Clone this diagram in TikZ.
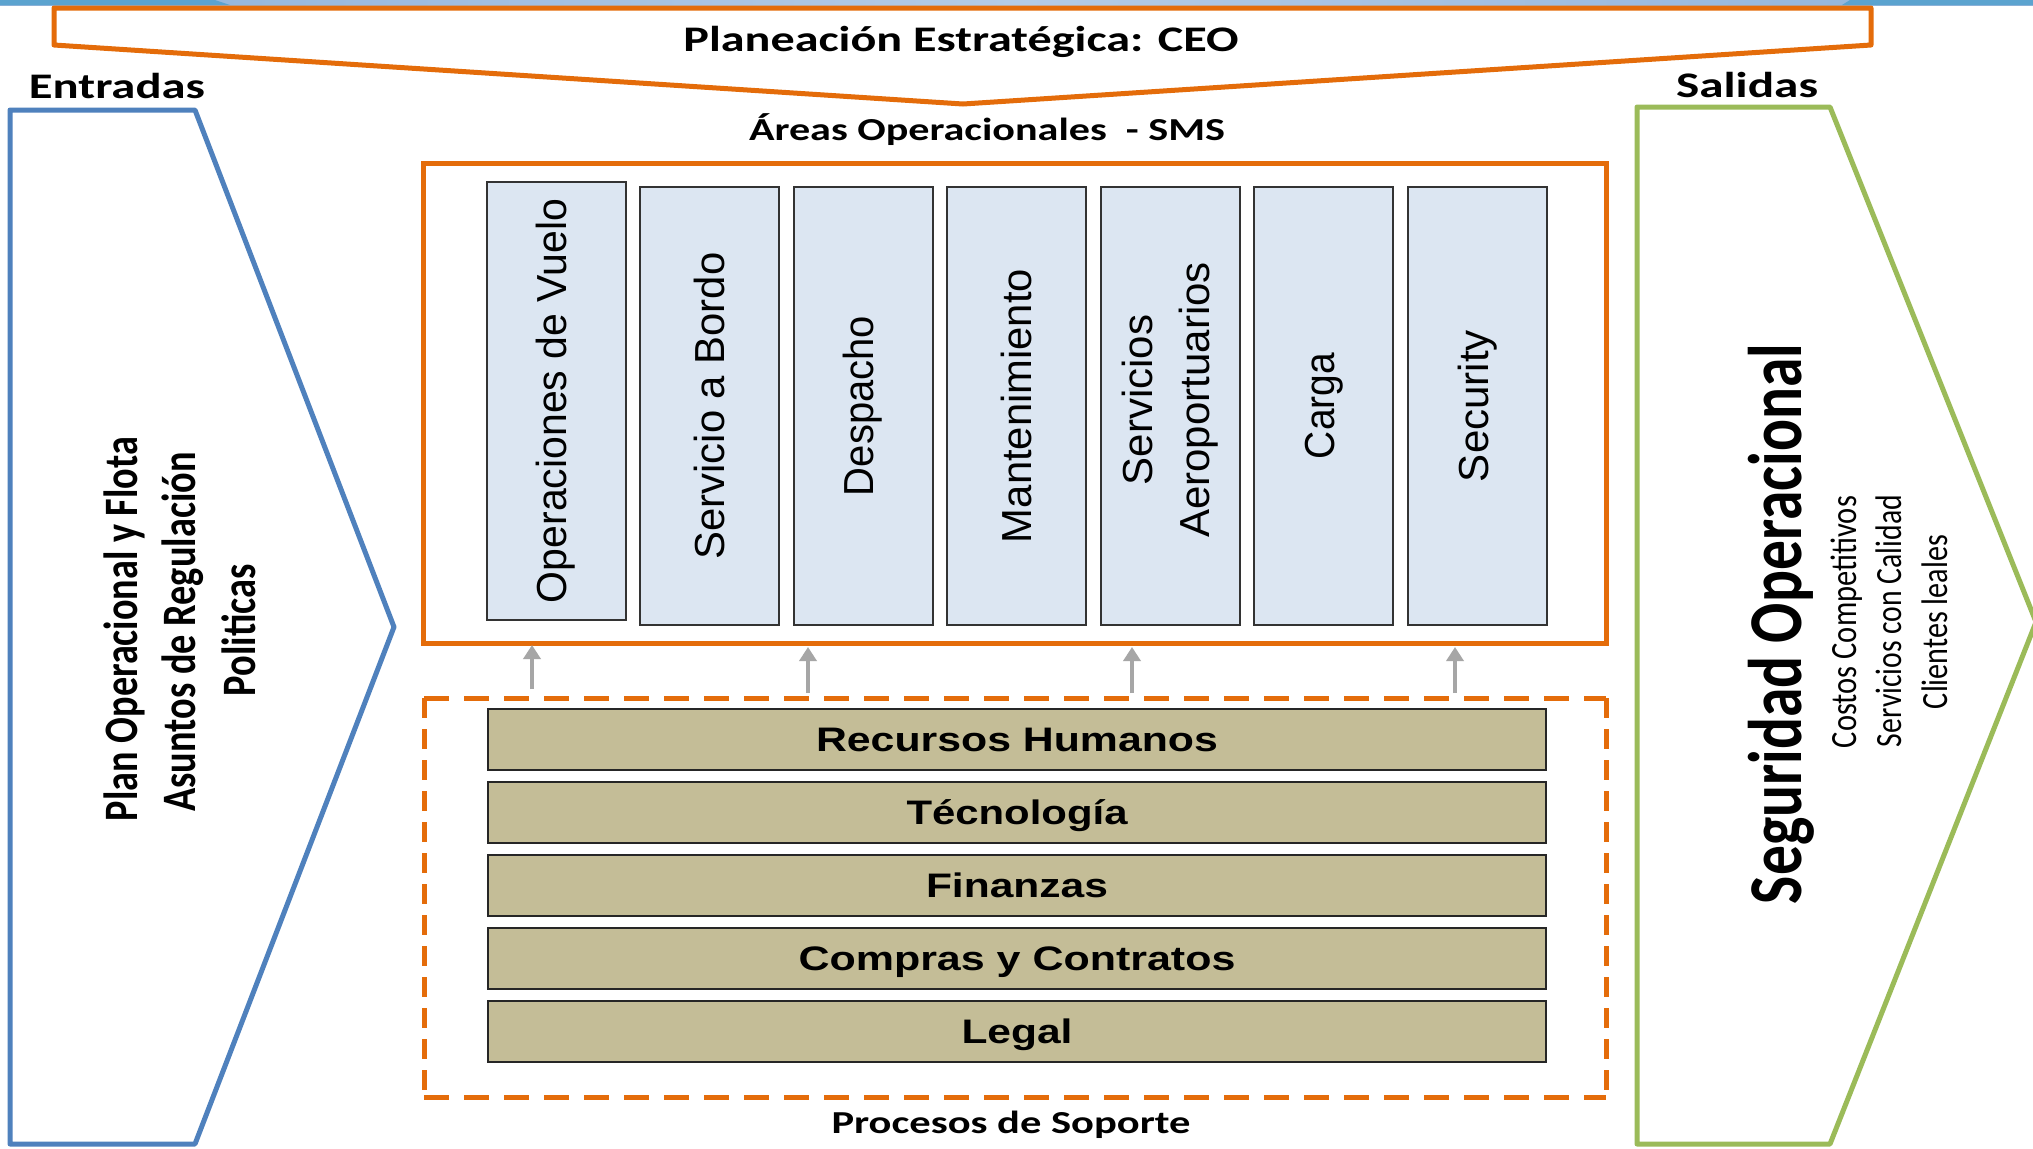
\documentclass[tikz,border=0pt]{standalone}
\usepackage{fontspec}
\setmainfont{Liberation Sans}
\newfontfamily\calfont{Carlito}
\usepackage{graphicx}
\usetikzlibrary{arrows.meta}
\definecolor{orng}{HTML}{E46C0A}
\definecolor{bluearr}{HTML}{4F81BD}
\definecolor{grnarr}{HTML}{9BBB59}
\definecolor{boxblue}{HTML}{DCE6F2}
\definecolor{tanfill}{HTML}{C4BD97}
\definecolor{arrgray}{HTML}{A6A6A6}
\definecolor{banddark}{HTML}{5BA3CF}
\definecolor{bandlight}{HTML}{8FB2D9}
\definecolor{bandpale}{HTML}{B4CBE6}
\newcommand\fw[2]{\resizebox{#1}{\height}{#2}}
\begin{document}
\begin{tikzpicture}[x=0.5pt,y=-0.5pt,
  chevron/.style={line width=2.5pt, line join=round, fill=white},
  areabox/.style={draw=black!80, line width=1pt, fill=boxblue, minimum width=69.5pt, minimum height=219pt, inner sep=0pt},
  areatxt/.style={rotate=90, font=\fontsize{21pt}{28.5pt}\selectfont, inner sep=0pt, align=center},
  suprow/.style={draw=black!85, line width=1.1pt, fill=tanfill, minimum width=529pt, minimum height=30.5pt, inner sep=0pt, text height=12.2pt, text depth=0pt, font=\bfseries\fontsize{17pt}{20pt}\selectfont},
  uparrow/.style={draw=arrgray, line width=2.2pt, -{Triangle[width=8.5pt,length=7pt]}},
  caltitle/.style={anchor=base, inner sep=0pt, font=\calfont\bfseries\fontsize{18pt}{21pt}\selectfont},
  calsub/.style={anchor=base, inner sep=0pt, font=\calfont\bfseries\fontsize{16pt}{19pt}\selectfont},
  sidetxt/.style={rotate=90, anchor=base, inner sep=0pt, font=\calfont\bfseries\fontsize{24pt}{28pt}\selectfont},
  outbig/.style={rotate=90, anchor=base, inner sep=0pt, font=\calfont\bfseries\fontsize{38pt}{44pt}\selectfont},
  outsmall/.style={rotate=90, anchor=base, inner sep=0pt, font=\calfont\fontsize{18.5pt}{22pt}\selectfont},
]
\clip (0,0) rectangle (2033,1148);
\fill[white] (0,0) rectangle (2033,1148);
% top band
\shade[left color=bandlight, right color=bandpale] (0,0) rectangle (1017,5);
\shade[left color=bandpale, right color=bandlight] (1016,0) rectangle (2033,5);
\fill[banddark] (0,0) -- (215,0) -- (230,5) -- (0,5) -- cycle;
\fill[banddark] (1850,0) -- (2033,0) -- (2033,5) -- (1842,5) -- cycle;
% strategic banner
\draw[chevron, draw=orng] (54,8) -- (1871,8) -- (1871,45) -- (963,104) -- (54,45) -- cycle;
\node[caltitle] (plan) at (961,51) {\fw{277.5pt}{Planeación Estratégica: CEO}};
% inputs / outputs chevrons
\draw[chevron, draw=bluearr] (10,110) -- (195,110) -- (394,627) -- (195,1144) -- (10,1144) -- cycle;
\draw[chevron, draw=grnarr] (1637,107) -- (1830,107) -- (2036,622) -- (1830,1144) -- (1637,1144) -- cycle;
\node[caltitle] (entr) at (117,98) {\fw{88pt}{Entradas}};
\node[caltitle] (sal) at (1747,97) {\fw{71pt}{Salidas}};
\node[sidetxt] (in1) at (137,629) {\fw{192pt}{Plan Operacional y Flota}};
\node[sidetxt] (in2) at (195,632) {\fw{179.5pt}{Asuntos de Regulación}};
\node[sidetxt] (in3) at (255,630) {\fw{66pt}{Politicas}};
\node[outbig] (out0) at (1801,624) {\fw{280pt}{Seguridad Operacional}};
\node[outsmall] (out1) at (1856,622) {\fw{126pt}{Costos Competitivos}};
\node[outsmall] (out2) at (1901,621) {\fw{126pt}{Servicios con Calidad}};
\node[outsmall] (out3) at (1947,622) {\fw{87pt}{Clientes leales}};
% operational areas
\node[calsub] (artitle) at (987,140) {\fw{238pt}{Áreas Operacionales\ \ - SMS}};
\node[draw=orng, line width=2.5pt, minimum width=591.5pt, minimum height=240pt, inner sep=0pt] (areas) at (1014.5,403) {};
\node[areabox] (b1) at (556,401) {};
\node[areabox] (b2) at (709.5,406) {};
\node[areabox] (b3) at (863.1,406) {};
\node[areabox] (b4) at (1016.7,406) {};
\node[areabox] (b5) at (1170.3,406) {};
\node[areabox] (b6) at (1323.9,406) {};
\node[areabox] (b7) at (1477.5,406) {};
\node[areatxt] (t1) at (b1) {\fw{202pt}{Operaciones de Vuelo}};
\node[areatxt] (t2) at (b2) {\fw{153.5pt}{Servicio a Bordo}};
\node[areatxt] (t3) at (b3) {\fw{90pt}{Despacho}};
\node[areatxt] (t4) at (b4) {\fw{137pt}{Mantenimiento}};
\node[areatxt, xshift=3pt] (t5) at (b5) {Servicios\\Aeroportuarios};
\node[areatxt] (t6) at (b6) {\fw{53pt}{Carga}};
\node[areatxt] (t7) at (b7) {\fw{76pt}{Security}};
% support processes
\draw[orng, line width=2.5pt, dash pattern=on 12.5pt off 7.5pt] (424,698) -- (1606,698) (424,1097) -- (1606,1097);
\draw[orng, line width=2.5pt, dash pattern=on 10pt off 5.5pt] (424,698) -- (424,1097) (1606,698) -- (1606,1097);
\node[suprow] (r1) at (1017,739.5) {\fw{201pt}{Recursos Humanos}};
\node[suprow] (r2) at (1017,812.5) {\fw{110.5pt}{Técnología}};
\node[suprow] (r3) at (1017,885.5) {\fw{91pt}{Finanzas}};
\node[suprow] (r4) at (1017,958.5) {\fw{218.5pt}{Compras y Contratos}};
\node[suprow] (r5) at (1017,1031.5) {\fw{55.5pt}{Legal}};
\node[calsub] (proc) at (1011,1133) {\fw{179.5pt}{Procesos de Soporte}};
% support arrows
\coordinate (s1) at (532,689); \coordinate (e1) at (532,645);
\coordinate (s2) at (808,693); \coordinate (e2) at (808,647);
\coordinate (s3) at (1132,693); \coordinate (e3) at (1132,647);
\coordinate (s4) at (1455,693); \coordinate (e4) at (1455,647);
\draw[uparrow] (s1) -- (e1);
\draw[uparrow] (s2) -- (e2);
\draw[uparrow] (s3) -- (e3);
\draw[uparrow] (s4) -- (e4);
\end{tikzpicture}
\end{document}
